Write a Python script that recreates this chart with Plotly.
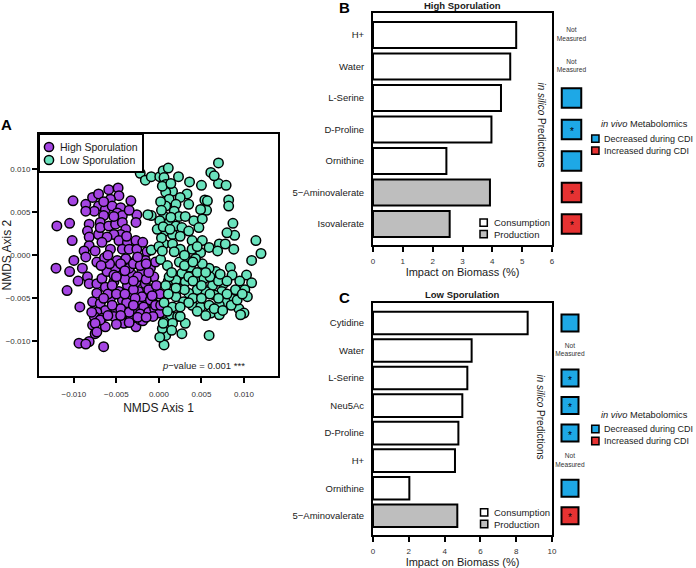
import plotly.graph_objects as go

# ---------------- data ----------------
# Panel A: NMDS ordination (High vs Low sporulation)
HIGH_X = [-0.0101, -0.0120, -0.0105, -0.0102, -0.0086, -0.0078, -0.0071, -0.0059, -0.0048, -0.0047,
          -0.0057, -0.0071, -0.0076, -0.0086, -0.0063, -0.0055, -0.0045, -0.0033, -0.0049, -0.0043,
          -0.0065, -0.0069, -0.0082, -0.0084, -0.0082, -0.0071, -0.0069, -0.0059, -0.0051, -0.0043,
          -0.0039, -0.0045, -0.0053, -0.0047, -0.0037, -0.0027, -0.0026, -0.0027, -0.0061, -0.0067,
          -0.0082, -0.0088, -0.0075, -0.0057, -0.0043, -0.0035, -0.0026, -0.0019, -0.0014,
          -0.0121, -0.0105, -0.0108, -0.0093, -0.0100, -0.0086, -0.0073, -0.0084, -0.0082, -0.0073,
          -0.0067, -0.0061, -0.0051, -0.0049, -0.0039, -0.0027, -0.0016, -0.0010, -0.0006, -0.0020,
          -0.0033, -0.0043, -0.0053, -0.0063, -0.0073, -0.0078, -0.0069, -0.0057, -0.0047, -0.0037,
          -0.0027, -0.0016, -0.0006, -0.0012, -0.0024, -0.0033, -0.0043, -0.0051, -0.0063, -0.0073,
          -0.0076, -0.0067, -0.0078, -0.0063, -0.0075, -0.0082, -0.0094, -0.0086, -0.0065, -0.0053,
          -0.0043, -0.0041, -0.0027, -0.0033, -0.0022, -0.0016, -0.0027, -0.0006, -0.0008, -0.0020,
          -0.0035, -0.0053, -0.0004,
          -0.0045, -0.0035, -0.0025, -0.0015, -0.0040, -0.0030, -0.0020, -0.0010, -0.0038, -0.0028,
          -0.0018, -0.0045, -0.0035, -0.0022, -0.0012, -0.0005, 0.0001, -0.0004, -0.0007, -0.0019,
          -0.0060, -0.0055, -0.0065, -0.0050, -0.0030, -0.0012, -0.0069, -0.0075, -0.0079, -0.0073,
          0.0001, 0.0002, -0.0030, -0.0022, -0.0012, -0.0040, -0.0058, -0.0064,
          -0.0050, -0.0040, -0.0030, -0.0025, -0.0015, -0.0035, -0.0045, -0.0055, -0.0060, -0.0050,
          -0.0008, -0.0003, -0.0015, -0.0025, -0.0060, -0.0068, -0.0090, -0.0095, -0.0065, -0.0053,
          -0.0035, -0.0038]
HIGH_Y = [0.0063, 0.0034, 0.0037, 0.0017, 0.0059, 0.0067, 0.0071, 0.0076, 0.0078, 0.0069,
          0.0065, 0.0057, 0.0051, 0.0051, 0.0053, 0.0057, 0.0055, 0.0063, 0.0049, 0.0046,
          0.0046, 0.0038, 0.0036, 0.0028, 0.0021, 0.0024, 0.0032, 0.0034, 0.0036, 0.0038,
          0.0030, 0.0024, 0.0024, 0.0017, 0.0015, 0.0017, 0.0047, 0.0038, 0.0021, 0.0015,
          0.0011, 0.0005, 0.0005, 0.0007, 0.0007, 0.0007, 0.0007, 0.0015, 0.0004,
          -0.0015, -0.0019, -0.0041, -0.0060, -0.0006, -0.0002, -0.0008, -0.0025, -0.0033, -0.0033,
          -0.0027, -0.0019, -0.0015, -0.0006, -0.0004, -0.0006, -0.0006, -0.0015, -0.0025, -0.0019,
          -0.0021, -0.0023, -0.0031, -0.0037, -0.0044, -0.0054, -0.0056, -0.0050, -0.0042, -0.0035,
          -0.0031, -0.0033, -0.0039, -0.0046, -0.0042, -0.0046, -0.0052, -0.0062, -0.0064, -0.0066,
          -0.0071, -0.0073, -0.0081, -0.0083, -0.0091, -0.0100, -0.0102, -0.0103, -0.0106, -0.0071,
          -0.0069, -0.0079, -0.0083, -0.0073, -0.0075, -0.0064, -0.0062, -0.0056, -0.0069, -0.0054,
          -0.0058, -0.0023, -0.0008,
          -0.0010, -0.0015, -0.0025, -0.0028, -0.0028, -0.0040, -0.0048, -0.0052, -0.0055, -0.0050,
          -0.0060, -0.0062, -0.0066, -0.0068, -0.0066, -0.0062, -0.0067, -0.0058, -0.0071, -0.0076,
          -0.0045, -0.0035, -0.0050, -0.0025, -0.0030, -0.0040, -0.0075, -0.0079, -0.0066, -0.0089,
          -0.0045, -0.0058, -0.0010, -0.0012, -0.0020, -0.0018, -0.0010, -0.0003,
          -0.0045, -0.0045, -0.0058, -0.0072, -0.0072, -0.0078, -0.0070, -0.0058, -0.0070, -0.0080,
          -0.0047, -0.0035, -0.0010, -0.0002, 0.0000, -0.0012, -0.0015, -0.0030, 0.0062, 0.0045,
          0.0052, 0.0022]

LOW_X = [-0.0022, -0.0016, -0.0009, 0.0001, 0.0005, 0.0011, 0.0023, 0.0036, 0.0050, 0.0061,
         0.0070, 0.0070, 0.0079, 0.0082, 0.0082, 0.0054, 0.0056, 0.0087, 0.0089, 0.0114,
         0.0120, 0.0109, 0.0103, 0.0109, 0.0101, -0.0009, -0.0009, -0.0013, 0.0011,
         0.0006, 0.0008, 0.0065, 0.0049, 0.0033, 0.0025, 0.0016, 0.0008, 0.0012, 0.0020,
         0.0035, 0.0008, 0.0018, 0.0024, 0.0031, 0.0041, 0.0051, 0.0006, 0.0012, 0.0020,
         0.0027, 0.0035, 0.0047, 0.0008, 0.0016, 0.0025, 0.0039, 0.0051, 0.0059, 0.0071,
         0.0078, 0.0080, 0.0006, 0.0016, 0.0025, 0.0039, 0.0049, 0.0069, 0.0088,
         0.0104, 0.0094, 0.0100, 0.0096, 0.0084, 0.0086, 0.0076, 0.0067, 0.0059, 0.0051,
         0.0043, 0.0031, 0.0024, 0.0037, 0.0027, 0.0020, 0.0031, 0.0043, 0.0053, 0.0063,
         0.0074, 0.0084, 0.0090, 0.0078, 0.0071, 0.0065, 0.0055, 0.0045, 0.0035, 0.0024,
         0.0020, 0.0029, 0.0039, 0.0049, 0.0059, 0.0061, 0.0071, 0.0016, 0.0014, 0.0022,
         0.0006, 0.0016, 0.0031, 0.0008, 0.0027, 0.0006, 0.0059,
         0.0004, 0.0001, 0.0005, 0.0015, 0.0025,
         0.0002, 0.0001, 0.0003, -0.0002, 0.0000, 0.0002, 0.0010, 0.0012, 0.0008, 0.0011,
         0.0006, 0.0010, 0.0040, 0.0050, 0.0060, 0.0070, 0.0080, 0.0045, 0.0035, 0.0057,
         0.0030, 0.0040, 0.0050, 0.0060, 0.0070, 0.0035, 0.0045, 0.0055, 0.0065, 0.0075,
         0.0085, 0.0092, 0.0025, 0.0020, 0.0015, 0.0030, 0.0040, 0.0055, 0.0072, 0.0080,
         0.0095, 0.0098, 0.0004, 0.0014, 0.0003, 0.0014, 0.0005, 0.0013, 0.0004, 0.0018,
         0.0030, 0.0045]
LOW_Y = [0.0095, 0.0087, 0.0091, 0.0091, 0.0098, 0.0101, 0.0091, 0.0085, 0.0081, 0.0096,
         0.0107, 0.0083, 0.0081, 0.0064, 0.0057, 0.0064, 0.0052, 0.0037, 0.0023, 0.0017,
         0.0002, -0.0006, -0.0023, -0.0032, -0.0040, 0.0006, 0.0046, 0.0047, -0.0030,
         0.0090, 0.0082, 0.0092, 0.0053, 0.0071, 0.0067, 0.0074, 0.0073, 0.0065, 0.0059,
         0.0059, 0.0057, 0.0051, 0.0045, 0.0045, 0.0040, 0.0042, 0.0045, 0.0038, 0.0034,
         0.0032, 0.0028, 0.0032, 0.0028, 0.0024, 0.0022, 0.0017, 0.0017, 0.0009, 0.0013,
         0.0013, 0.0026, 0.0013, 0.0013, 0.0007, 0.0007, 0.0003, 0.0005, 0.0007,
         -0.0048, -0.0062, -0.0067, -0.0069, -0.0014, -0.0023, -0.0033, -0.0019, -0.0015, -0.0010,
         -0.0004, -0.0002, -0.0008, -0.0014, -0.0021, -0.0029, -0.0031, -0.0029, -0.0027, -0.0035,
         -0.0042, -0.0050, -0.0040, -0.0054, -0.0058, -0.0046, -0.0042, -0.0040, -0.0044, -0.0039,
         -0.0048, -0.0054, -0.0058, -0.0060, -0.0058, -0.0067, -0.0069, -0.0060, -0.0071, -0.0071,
         -0.0077, -0.0079, -0.0079, -0.0093, -0.0091, -0.0104, -0.0093,
         -0.0085, -0.0095, -0.0079, -0.0087, -0.0071,
         0.0062, 0.0040, 0.0020, 0.0030, 0.0010, -0.0005, -0.0012, -0.0025, -0.0035, -0.0045,
         -0.0055, -0.0065, -0.0050, -0.0050, -0.0025, -0.0030, -0.0045, -0.0020, -0.0025, 0.0063,
         -0.0040, -0.0030, -0.0035, -0.0045, -0.0050, -0.0055, -0.0065, -0.0070, -0.0062, -0.0064,
         -0.0058, -0.0052, -0.0060, -0.0038, -0.0020, -0.0012, -0.0008, -0.0020, -0.0022, -0.0030,
         -0.0030, -0.0045, 0.0080, 0.0083, 0.0052, 0.0044, 0.0033, 0.0030, 0.0005, 0.0004,
         0.0000, 0.0010]

A_TICKS = [-0.010, -0.005, 0.000, 0.005, 0.010]
A_GROUPS = ["High Sporulation", "Low Sporulation"]

# Panel B: High sporulation
B_METABOLITES = ["H+", "Water", "L-Serine", "D-Proline", "Ornithine", "5\u2212Aminovalerate", "Isovalerate"]
B_IMPACT = [4.80, 4.60, 4.29, 3.97, 2.46, 3.92, 2.57]
B_TYPE = ["Consumption", "Consumption", "Consumption", "Consumption", "Consumption", "Production", "Production"]
B_INVIVO = ["Not Measured", "Not Measured", "Decreased", "Decreased", "Decreased", "Increased", "Increased"]
B_SIGNIF = ["", "", "", "*", "", "*", "*"]
B_TICKS = [0, 1, 2, 3, 4, 5, 6]

# Panel C: Low sporulation
C_METABOLITES = ["Cytidine", "Water", "L-Serine", "Neu5Ac", "D-Proline", "H+", "Ornithine", "5\u2212Aminovalerate"]
C_IMPACT = [8.64, 5.51, 5.27, 4.99, 4.77, 4.58, 2.03, 4.71]
C_TYPE = ["Consumption"] * 7 + ["Production"]
C_INVIVO = ["Decreased", "Not Measured", "Decreased", "Decreased", "Decreased", "Not Measured", "Decreased", "Increased"]
C_SIGNIF = ["", "", "*", "*", "*", "", "", "*"]
C_TICKS = [0, 2, 4, 6, 8, 10]

# ---------------- styles ----------------
W, H = 696, 568
FONT = "Liberation Sans, Arial, Helvetica, sans-serif"
PURPLE = "#A545E3"
TEAL = "#6AE3BD"
BLUE = "#1EA8E6"
RED = "#E63232"
GREY = "#BEBEBE"
TXT = "#1a1a1a"
TICKTXT = "#333333"
BAR_FILL = {"Consumption": "white", "Production": GREY}
INVIVO_FILL = {"Decreased": BLUE, "Increased": RED}
INVIVO_LABEL = {"Decreased": "Decreased during CDI", "Increased": "Increased during CDI"}
GROUP_FILL = {"High Sporulation": PURPLE, "Low Sporulation": TEAL}


def px(x):
    return x / W


def py(y):
    return 1 - y / H


fig = go.Figure()
annotations = []
shapes = []

# ---- Panel A scatter ----
for name, xs_, ys_ in [(A_GROUPS[0], HIGH_X, HIGH_Y), (A_GROUPS[1], LOW_X, LOW_Y)]:
    fig.add_trace(go.Scatter(x=xs_, y=ys_, mode="markers", name=name,
                             marker=dict(size=9.5, color=GROUP_FILL[name], line=dict(color="black", width=1.5)),
                             xaxis="x", yaxis="y", showlegend=False))

# manual legend for panel A (box + circles + labels)
shapes.append(dict(type="rect", xref="paper", yref="paper", x0=px(39), x1=px(143), y0=py(172), y1=py(134),
                   fillcolor="white", line=dict(color="black", width=2)))
for name, yc in zip(A_GROUPS, [147, 160]):
    r = 4.6
    shapes.append(dict(type="circle", xref="paper", yref="paper", x0=px(49 - r), x1=px(49 + r),
                       y0=py(yc + r), y1=py(yc - r), fillcolor=GROUP_FILL[name],
                       line=dict(color="black", width=1.5)))
    annotations.append(dict(x=px(57.5), y=py(yc), xref="paper", yref="paper", text=name, showarrow=False,
                            xanchor="left", yanchor="middle", font=dict(size=10.5, color=TXT)))


def add_bar_panel(names, impact, types, invivo, signif, xa, ya, xs, sq_size):
    for t in ["Consumption", "Production"]:
        xs_ = [v for v, tt in zip(impact, types) if tt == t]
        ys_ = [n for n, tt in zip(names, types) if tt == t]
        fig.add_trace(go.Bar(x=xs_, y=ys_, orientation="h", width=0.82, name=t,
                             marker=dict(color=BAR_FILL[t], line=dict(color="black", width=2)),
                             xaxis=xa, yaxis=ya, showlegend=False))
    for s in ["Decreased", "Increased"]:
        ys_ = [n for n, st in zip(names, invivo) if st == s]
        fig.add_trace(go.Scatter(x=[0.5] * len(ys_), y=ys_, mode="markers", name=INVIVO_LABEL[s],
                                 marker=dict(symbol="square", size=sq_size, color=INVIVO_FILL[s],
                                             line=dict(color="black", width=2)),
                                 cliponaxis=False, xaxis=xs, yaxis=ya, showlegend=False))
    ys_ = [n for n, st in zip(names, invivo) if st == "Not Measured"]
    fig.add_trace(go.Scatter(x=[0.5] * len(ys_), y=ys_, mode="text", text=["Not<br>Measured"] * len(ys_),
                             textposition="middle center", textfont=dict(size=6.6, color=TICKTXT),
                             cliponaxis=False, xaxis=xs, yaxis=ya, showlegend=False, hoverinfo="skip"))
    for n, sg in zip(names, signif):
        if sg:
            annotations.append(dict(x=0.5, y=n, xref=xs, yref=ya, text=sg, showarrow=False,
                                    font=dict(size=10, color="black"), yshift=-2))


add_bar_panel(B_METABOLITES, B_IMPACT, B_TYPE, B_INVIVO, B_SIGNIF, "x2", "y2", "x4", 19.5)
add_bar_panel(C_METABOLITES, C_IMPACT, C_TYPE, C_INVIVO, C_SIGNIF, "x3", "y3", "x5", 17)


# ---- manual legends for B and C ----
def legend_rows(entries, x_sq, y_centers, x_text, size=7.3, fsize=9.5):
    for (label, fill), yc in zip(entries, y_centers):
        shapes.append(dict(type="rect", xref="paper", yref="paper",
                           x0=px(x_sq), x1=px(x_sq + size), y0=py(yc + size / 2), y1=py(yc - size / 2),
                           fillcolor=fill, line=dict(color="black", width=1.5)))
        annotations.append(dict(x=px(x_text), y=py(yc), xref="paper", yref="paper", text=label,
                                showarrow=False, xanchor="left", yanchor="middle",
                                font=dict(size=fsize, color=TXT)))


BAR_LEGEND = [("Consumption", BAR_FILL["Consumption"]), ("Production", BAR_FILL["Production"])]
INVIVO_LEGEND = [(INVIVO_LABEL["Decreased"], BLUE), (INVIVO_LABEL["Increased"], RED)]

legend_rows(BAR_LEGEND, 480, [222.7, 234.2], 492)
legend_rows(BAR_LEGEND, 480.5, [512.3, 524], 492)
legend_rows(INVIVO_LEGEND, 591.7, [138.7, 150.7], 601.5, fsize=9.0)
legend_rows(INVIVO_LEGEND, 591.7, [429, 441], 601.5, fsize=9.0)

for yc in [124.3, 414.7]:
    annotations.append(dict(x=px(598.5), y=py(yc), xref="paper", yref="paper",
                            text="<i>in vivo</i> Metabolomics", showarrow=False,
                            xanchor="left", yanchor="middle", font=dict(size=9.3, color=TXT)))

# in silico labels
for yc in [125, 417]:
    annotations.append(dict(x=px(540.5), y=py(yc), xref="paper", yref="paper",
                            text="<i>in silico</i> Predictions", textangle=90, showarrow=False,
                            xanchor="center", yanchor="middle", font=dict(size=10, color=TXT)))

# panel titles
annotations.append(dict(x=px(462.5), y=py(5), xref="paper", yref="paper", text="<b>High Sporulation</b>",
                        showarrow=False, xanchor="center", yanchor="middle", font=dict(size=9.5, color=TXT)))
annotations.append(dict(x=px(462.5), y=py(294), xref="paper", yref="paper", text="<b>Low Sporulation</b>",
                        showarrow=False, xanchor="center", yanchor="middle", font=dict(size=9.5, color=TXT)))

# panel letters
for letter, xx, yy in [("A", 6, 124.5), ("B", 344, 7), ("C", 344, 297)]:
    annotations.append(dict(x=px(xx), y=py(yy), xref="paper", yref="paper", text="<b>%s</b>" % letter,
                            showarrow=False, xanchor="center", yanchor="middle",
                            font=dict(size=15, color="black")))

# A: p-value and y title
annotations.append(dict(x=px(246.5), y=py(365), xref="paper", yref="paper",
                        text="<i>p</i>\u2212value = 0.001 ***", showarrow=False,
                        xanchor="right", yanchor="middle", font=dict(size=9.5, color=TXT)))
annotations.append(dict(x=px(6.5), y=py(255), xref="paper", yref="paper", text="NMDS Axis 2",
                        textangle=-90, showarrow=False, xanchor="center", yanchor="middle",
                        font=dict(size=12, color=TXT)))

common_axis = dict(showgrid=False, zeroline=False, showline=True, linecolor="black", linewidth=2,
                   mirror=True, ticks="outside", ticklen=5, tickwidth=1.5, tickcolor="black")

fig.update_layout(
    width=W, height=H, margin=dict(l=0, r=0, t=0, b=0, autoexpand=False),
    paper_bgcolor="white", plot_bgcolor="white",
    font=dict(family=FONT, color=TXT),
    barmode="overlay", showlegend=False, hovermode=False,
    xaxis=dict(domain=[px(39), px(278)], range=[-0.0141, 0.0140], tickvals=A_TICKS, tickformat=".3f",
               tickfont=dict(size=8, color=TICKTXT), ticklabelstandoff=4, anchor="y",
               title=dict(text="NMDS Axis 1", font=dict(size=12, color=TXT), standoff=6), **common_axis),
    yaxis=dict(domain=[py(376), py(134)], range=[-0.0140, 0.01405], tickvals=A_TICKS, tickformat=".3f",
               tickfont=dict(size=8, color=TICKTXT), anchor="x", **common_axis),
    xaxis2=dict(domain=[px(373), px(552)], range=[0, 6], tickvals=B_TICKS,
                tickfont=dict(size=8, color=TICKTXT), ticklabelstandoff=2, anchor="y2",
                title=dict(text="Impact on Biomass (%)", font=dict(size=11, color=TXT), standoff=3),
                **common_axis),
    yaxis2=dict(domain=[py(245), py(13)], type="category", categoryorder="array",
                categoryarray=B_METABOLITES, range=[6.667, -0.698], anchor="x2",
                showgrid=False, zeroline=False, showline=True, linecolor="black", linewidth=2, mirror=True,
                ticks="", ticklabelstandoff=5, tickfont=dict(size=9.5, color=TXT)),
    xaxis3=dict(domain=[px(373), px(552)], range=[0, 10], tickvals=C_TICKS,
                tickfont=dict(size=8, color=TICKTXT), ticklabelstandoff=2, anchor="y3",
                title=dict(text="Impact on Biomass (%)", font=dict(size=11, color=TXT), standoff=3),
                **common_axis),
    yaxis3=dict(domain=[py(535), py(303)], type="category", categoryorder="array",
                categoryarray=C_METABOLITES, range=[7.70, -0.726], anchor="x3",
                showgrid=False, zeroline=False, showline=True, linecolor="black", linewidth=2, mirror=True,
                ticks="", ticklabelstandoff=5, tickfont=dict(size=9.5, color=TXT)),
    xaxis4=dict(domain=[px(556), px(587)], range=[0, 1], visible=False, anchor="y2"),
    xaxis5=dict(domain=[px(554.5), px(585.5)], range=[0, 1], visible=False, anchor="y3"),
    annotations=annotations,
    shapes=shapes,
)

fig.write_html("out.html", config={"displayModeBar": False},
               post_script="document.body.style.margin='0px';")
